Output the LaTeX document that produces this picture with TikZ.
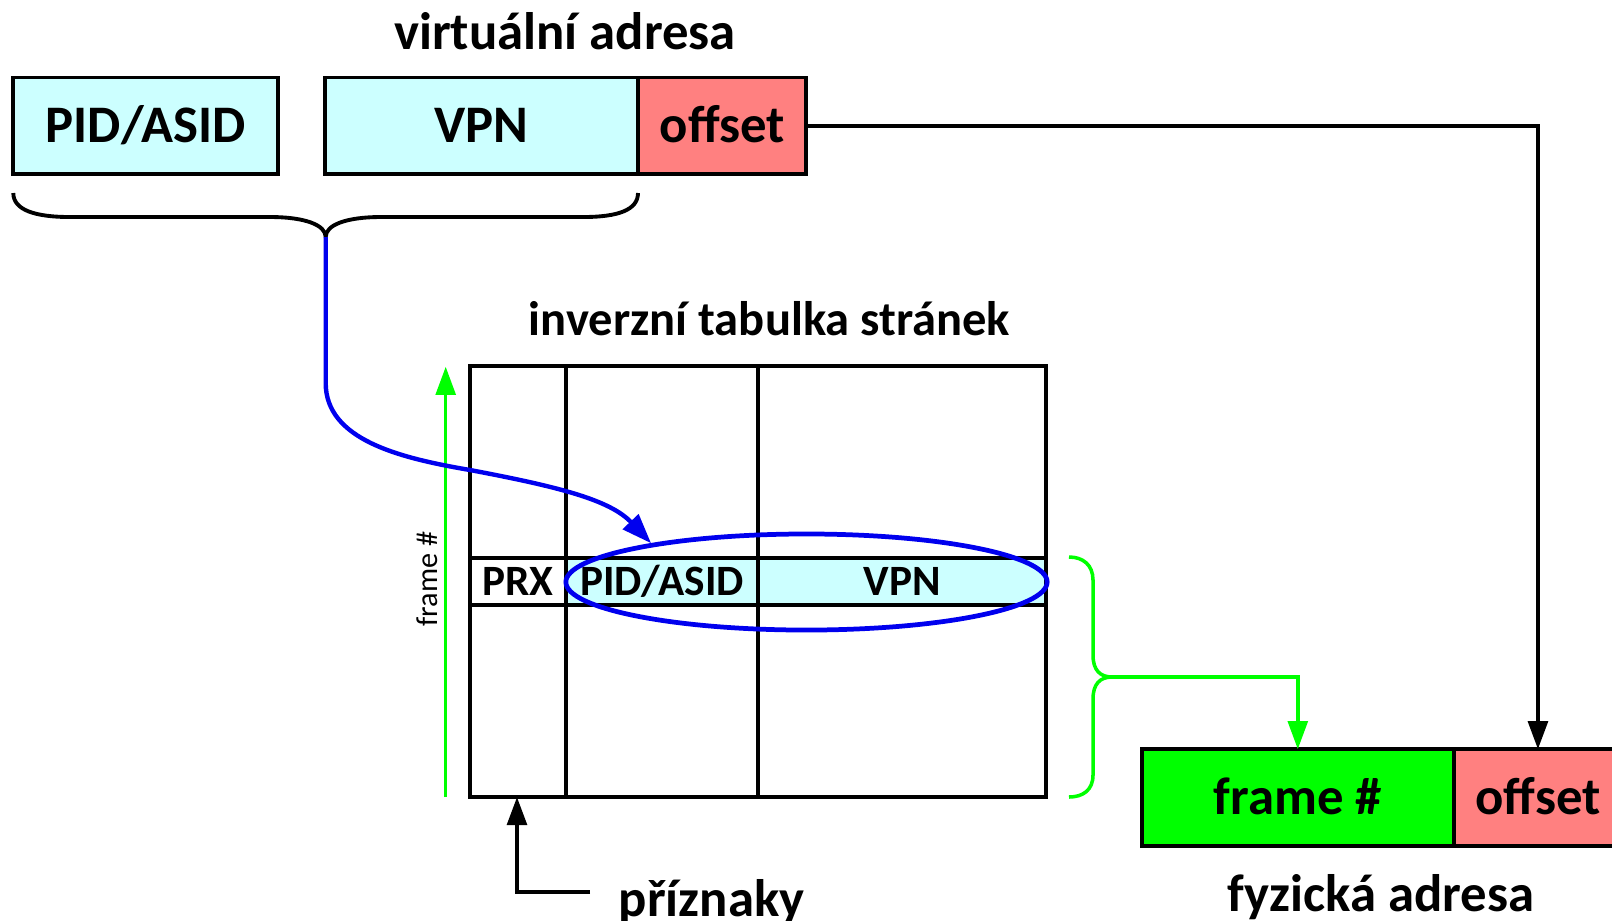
\documentclass[tikz,border=0pt]{standalone}
\usepackage{fontspec}
\setmainfont{Carlito}
\usetikzlibrary{arrows.meta,positioning,shapes.geometric}
\definecolor{cellcyan}{HTML}{CCFFFF}
\definecolor{cellred}{HTML}{FF8080}
\definecolor{framegreen}{HTML}{00FF00}
\definecolor{matchblue}{HTML}{0000EE}
\tikzset{
	field/.style={draw, line width=1.1pt, minimum height=0.965cm, inner sep=0pt, outer sep=0pt,
		font=\fontsize{15}{18}\selectfont\bfseries, text height=9.7pt, text depth=0pt},
	cell/.style={inner sep=0pt, font=\fontsize{12.3}{14}\selectfont\bfseries, text height=7.9pt, text depth=0pt},
	heading/.style={anchor=base, inner sep=0pt, font=\fontsize{15}{18}\selectfont\bfseries},
	grid/.style={line width=1.1pt},
	link/.style={line width=1.1pt, -{Triangle[length=8pt,width=5.6pt]}},
	bluelink/.style={line width=1.25pt, draw=matchblue, -{Triangle[length=8.5pt,width=6pt]}},
	greenlink/.style={line width=1pt, draw=framegreen, -{Triangle[length=8pt,width=5.6pt]}},
	brace/.style={line width=1.1pt},
}

\begin{document}
\begin{tikzpicture}[x=0.01cm, y=-0.01cm]
		%%%%% START %%%%%
		\useasboundingbox (0, 0) rectangle (1612, 920);
		
		% virtual address
		\node[heading] (vtitle) at (565, 49) {virtuální adresa};
		\node[field, fill=cellcyan, minimum width=2.647cm] (pidasid) at (145.7, 125.8) {PID/ASID};
		\node[field, fill=cellcyan, minimum width=3.13cm] (vpn) at (481.5, 125.8) {VPN};
		\node[field, fill=cellred, minimum width=1.68cm, right=0pt of vpn] (voff) {offset};
		
		\draw[brace] (13.3, 193) .. controls (13.3, 210) and (35, 217) .. (70, 217) -- (270, 217)
			.. controls (305, 217) and (325.7, 225) .. (325.7, 237)
			.. controls (325.7, 225) and (346, 217) .. (381, 217) -- (583, 217)
			.. controls (618, 217) and (638, 210) .. (638, 193);
		\coordinate (btip) at (325.7, 237);
		
		% inverted page table
		\node[heading, font=\fontsize{13.8}{16}\selectfont\bfseries] (ttitle) at (769.5, 335) {inverzní tabulka stránek};
		\fill[cellcyan] (566, 557.7) rectangle (1045.7, 605);
		\draw[grid] (470, 365.7) rectangle (1045.7, 797);
		\draw[grid] (566, 365.7) -- (566, 797);
		\draw[grid] (758.3, 365.7) -- (758.3, 797);
		\draw[grid] (470, 557.7) -- (1045.7, 557.7);
		\draw[grid] (470, 605) -- (1045.7, 605);
		\node[cell] (prx) at (518, 581.3) {PRX};
		\node[cell] (tpid) at (662, 581.3) {PID/ASID};
		\node[cell] (tvpn) at (902, 581.3) {VPN};
		\node[ellipse, draw=matchblue, line width=1.35pt, minimum width=4.81cm, minimum height=0.96cm, inner sep=0pt] (match) at (806.5, 582) {};
		
		\coordinate (gbot) at (445.7, 797);
		\coordinate (gtop) at (445.7, 366.7);
		\draw[greenlink] (gbot) -- (gtop);
		\node[rotate=90, inner sep=0pt, font=\fontsize{8.6}{10}\selectfont] (fnum) at (427, 579) {frame \#};
		
		\draw[bluelink] (btip) -- (325.7, 383) .. controls (325.7, 440) and (400, 458) .. (470, 470)
			.. controls (560, 487) and (610, 500) .. (match.166);
		
		% flags
		\coordinate (flagpt) at (517, 797);
		\node[anchor=base west, inner sep=0pt, inner xsep=0.28cm, font=\fontsize{15}{18}\selectfont\bfseries] (flags) at (590, 916) {příznaky};
		\draw[link] ([yshift=6.8pt]flags.base west) -| (flagpt);
		
		% physical address
		\node[field, fill=framegreen, minimum width=3.12cm] (frame) at (1297.8, 797.5) {frame \#};
		\node[field, fill=cellred, minimum width=1.68cm, right=0pt of frame] (poff) {offset};
		\node[heading] (ptitle) at (1381, 911.5) {fyzická adresa};
		
		\draw[brace, draw=framegreen, line width=1pt] (1069, 557) .. controls (1083, 557) and (1093, 565) .. (1093, 580) -- (1093, 655)
			.. controls (1093, 670) and (1100, 677) .. (1112, 677)
			.. controls (1100, 677) and (1093, 684) .. (1093, 699) -- (1093, 775)
			.. controls (1093, 790) and (1083, 797) .. (1069, 797);
		\coordinate (gtip) at (1112, 677);
		\draw[greenlink] (gtip) -| (frame.north);
		
		\draw[link] (voff.east) -| (poff.north);
		%%%%% END %%%%%
	\end{tikzpicture}
\end{document}
